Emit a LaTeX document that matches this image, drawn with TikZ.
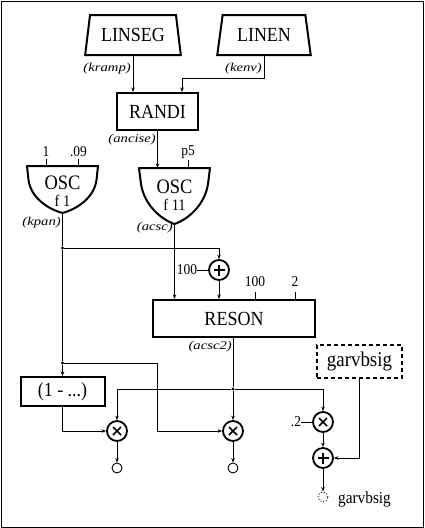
\documentclass[tikz,border=0pt]{standalone}
\usepackage{fontspec}
\setmainfont[FakeStretch=0.9]{Liberation Serif}
\usepackage{graphicx}
\usetikzlibrary{arrows.meta,shapes.geometric}
\tikzset{
 ln/.style={line width=0.9pt},
 arr/.style={ln,-{Stealth[length=4.5pt,width=3.5pt]}},
 bx/.style={draw, line width=2pt, inner sep=0pt, font=\fontsize{20}{20}\selectfont},
 trap/.style={bx, trapezium, trapezium angle=75, trapezium stretches=true, minimum height=40pt},
 lab/.style={inner sep=0pt, anchor=east},
 num/.style={inner sep=0pt, font=\fontsize{15}{15}\selectfont},
 osct/.style={inner sep=0pt, font=\fontsize{20.5}{20.5}\selectfont},
 oscf/.style={inner sep=0pt, font=\fontsize{16}{16}\selectfont},
 oscline/.style={line width=2pt, line join=round},
 opc/.style={circle, draw, line width=1.8pt, minimum size=20pt, inner sep=0pt},
 plusop/.style={opc, path picture={
   \draw[line width=1.7pt] ([xshift=-5.5pt]path picture bounding box.center) -- ([xshift=5.5pt]path picture bounding box.center);
   \draw[line width=1.7pt] ([yshift=-5.5pt]path picture bounding box.center) -- ([yshift=5.5pt]path picture bounding box.center);}},
 mulop/.style={opc, path picture={
   \draw[line width=1.7pt] ([shift={(-4pt,-4pt)}]path picture bounding box.center) -- ([shift={(4pt,4pt)}]path picture bounding box.center);
   \draw[line width=1.7pt] ([shift={(-4pt,4pt)}]path picture bounding box.center) -- ([shift={(4pt,-4pt)}]path picture bounding box.center);}},
 jdot/.style={circle, fill, inner sep=0pt, minimum size=3.2pt},
 endc/.style={circle, draw, ln, minimum size=10pt, inner sep=0pt},
}
\newcommand\ilab[1]{\scalebox{1.36}[1]{\fontsize{12}{12}\selectfont\itshape #1}}
\begin{document}
\begin{tikzpicture}[x=1pt,y=-1pt]
\useasboundingbox (0,0) rectangle (424,528);
\draw[line width=1pt] (1,1) rectangle (423,527);

% top generators
\node[trap, minimum width=96pt] (linseg) at (133,35) {LINSEG};
\node[trap, minimum width=94pt] (linen) at (264,35) {LINEN};
\node[lab] (lkramp) at (131,69) {\ilab{(kramp)}};
\node[lab] (lkenv) at (262,69) {\ilab{(kenv)}};

% RANDI
\node[bx, minimum width=81pt, minimum height=37pt] (randi) at (157.5,111.5) {RANDI};
\draw[arr] (linseg.south) -- (linseg.south |- randi.north);
\draw[arr] (linen.south) -- (linen.south |- 0,78) -| ([xshift=24.5pt]randi.north);
\node[lab] (lancise) at (156,140) {\ilab{(ancise)}};

% OSC f1
\draw[oscline] (27,166) -- (98,166) -- (96.5,180) .. controls (94,198) and (77,209) .. (62.5,213)
  .. controls (48,209) and (31,198) .. (28.5,180) -- cycle;
\coordinate (o1t) at (62.5,166);
\coordinate (o1b) at (62.5,213);
\node[osct] (osc1) at (62.5,183) {OSC};
\node[oscf] (osc1f) at (62.5,201) {f 1};
\node[num] (n1) at (46,152) {1};
\node[num] (n09) at (78.5,152) {.09};
\draw[ln] (n1.south |- 0,159) -- (n1.south |- o1t);
\draw[ln] (n09.south |- 0,159) -- (n09.south |- o1t);
\node[lab] (lkpan) at (61,223) {\ilab{(kpan)}};

% OSC f11
\draw[oscline] (139,168) -- (210,168) -- (208,184) .. controls (205,204) and (189,219) .. (174.5,224)
  .. controls (160,219) and (144,204) .. (141,184) -- cycle;
\coordinate (o2t) at (174.5,168);
\coordinate (o2b) at (174.5,224);
\node[osct] (osc2) at (174.5,187) {OSC};
\node[oscf] (osc2f) at (174.5,205) {f 11};
\node[num] (np5) at (188,152) {p5};
\draw[ln] (np5.south |- 0,160) -- (np5.south |- o2t);
\draw[arr] (randi.south) -- (randi.south |- o2t);
\node[lab] (lacsc) at (173,228) {\ilab{(acsc)}};

% RESON
\node[bx, minimum width=162pt, minimum height=37pt] (reson) at (234,318.5) {RESON};
\node[plusop] (plus1) at (219,270) {};
\node[num] (c100) at (187,270) {100};
\draw[ln] (c100) -- (plus1);
\node[jdot] (j1) at (62.5,248) {};
\draw[ln] (o1b) -- (j1);
\draw[arr] (j1) -| (plus1.north);
\draw[arr] (plus1) -- (plus1 |- reson.north);
\draw[arr] (o2b) -- (o2b |- reson.north);
\node[num] (r100) at (255,282) {100};
\node[num] (r2) at (295,282) {2};
\draw[ln] (r100.south |- 0,292) -- (r100.south |- reson.north);
\draw[ln] (r2.south |- 0,292) -- (r2.south |- reson.north);
\node[lab] (lacsc2) at (232,347) {\ilab{(acsc2)}};

% lower section
\node[jdot] (j3) at (233,389) {};
\draw[ln] (j3 |- reson.south) -- (j3);
\node[jdot] (j2) at (62.5,363) {};
\draw[ln] (j1) -- (j2);
\node[bx, minimum width=84pt, minimum height=29pt] (onem) at (62.5,391.5) {(1 - ...)};
\draw[arr] (j2) -- (onem.north);

\node[mulop] (mul1) at (117,431) {};
\node[mulop] (mul2) at (233,431) {};
\node[mulop] (mul3) at (323,422) {};
\node[plusop] (add2) at (323,458) {};

\coordinate (b1) at (157,363);
\draw[arr] (j2) -- (b1) |- (mul2.west);
\draw[arr] (onem.south) |- (mul1.west);
\draw[arr] (j3) -| (mul1.north);
\draw[arr] (j3) -- (mul2.north);
\draw[arr] (j3) -| (mul3.north);

\node[num] (c2) at (296,422) {.2};
\draw[ln] (c2) -- (mul3);
\draw[arr] (mul3) -- (add2);

\node[bx, dash pattern=on 4pt off 3pt, minimum width=85pt, minimum height=33pt, font=\fontsize{21}{21}\selectfont] (garv) at (359.5,361.5) {garvbsig};
\draw[arr] (garv.south) |- (add2.east);

\node[endc] (e1) at (117,468) {};
\node[endc] (e2) at (233,468) {};
\node[endc, dotted] (e3) at (323,497) {};
\draw[arr] (mul1) -- (e1);
\draw[arr] (mul2) -- (e2);
\draw[arr] (add2) -- (e3);
\node[anchor=base west, inner sep=0pt, font=\fontsize{17}{17}\selectfont] (outl) at (338,503) {garvbsig};
\end{tikzpicture}
\end{document}
